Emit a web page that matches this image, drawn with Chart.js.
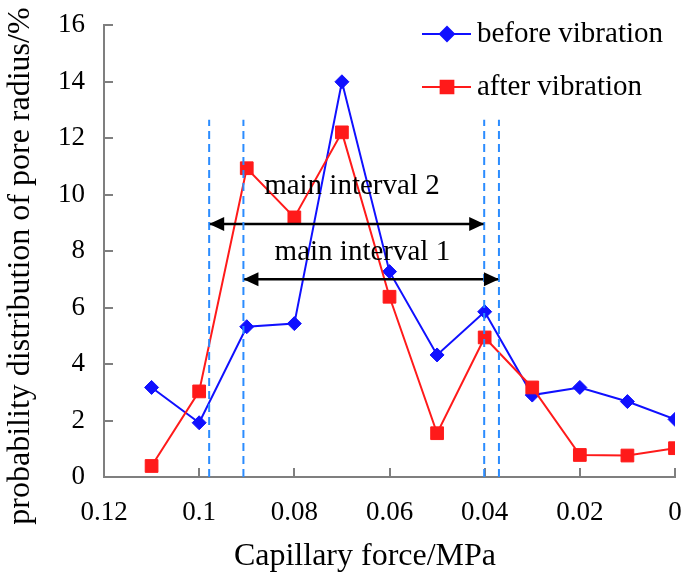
<!DOCTYPE html>
<html>
<head>
<meta charset="utf-8">
<script src="https://cdn.jsdelivr.net/npm/chart.js@4.4.1/dist/chart.umd.min.js"></script>
<style>
  html, body { margin: 0; padding: 0; background: #fff; }
</style>
</head>
<body>
<canvas id="poreChart" width="685" height="575"></canvas>
<script>
// capillary force (MPa) and pore radius distribution (%)
const pressure = [0.11, 0.10, 0.09, 0.08, 0.07, 0.06, 0.05, 0.04, 0.03, 0.02, 0.01, 0];
const beforeVib = [3.17, 1.92, 5.32, 5.43, 13.99, 7.27, 4.32, 5.85, 2.9, 3.17, 2.67, 2.04];
const afterVib = [0.39, 3.03, 10.93, 9.19, 12.2, 6.38, 1.55, 4.94, 3.17, 0.78, 0.76, 1.02];
const seriesNames = ["before vibration", "after vibration"];

const xTicks = [0, 0.02, 0.04, 0.06, 0.08, 0.1, 0.12];
const yTicks = [0, 2, 4, 6, 8, 10, 12, 14, 16];
const xTitle = "Capillary force/MPa";
const yTitle = "probability distribution of pore radius/%";

// dashed boundaries + the two interval arrows
const boundX = [0.0979, 0.0907, 0.0401, 0.037];
const boundY = [0, 12.65];
const intervalNames = ["main interval 2", "main interval 1"];
const intervalFrom = [0.0979, 0.0907];
const intervalTo = [0.0401, 0.037];
const intervalY = [8.96, 7.0];
const intervalLabelX = [0.0679, 0.0657];
const intervalLabelY = [10.27, 7.96];

const FONT = "'Liberation Serif', 'Times New Roman', serif";
const BLUE = "#1010ff";
const RED = "#ff1a1a";
const DASH = "#2b8cff";
const AXIS = "#7f7f7f";

const toPoints = ys => pressure.map((x, i) => ({ x, y: ys[i] }));

const datasets = [
  {
    label: seriesNames[0],
    data: toPoints(beforeVib),
    borderColor: BLUE,
    backgroundColor: BLUE,
    borderWidth: 2,
    pointStyle: "rectRot",
    pointRadius: 7,
    pointBorderWidth: 1,
    order: 2
  },
  {
    label: seriesNames[1],
    data: toPoints(afterVib),
    borderColor: RED,
    backgroundColor: RED,
    borderWidth: 2,
    pointStyle: "rect",
    pointRadius: 9,
    pointBorderWidth: 1,
    order: 1
  }
];

boundX.forEach(x => {
  datasets.push({
    label: "bound",
    data: boundY.map(y => ({ x, y })),
    borderColor: DASH,
    borderWidth: 2,
    borderDash: [8, 5],
    pointRadius: 0,
    order: 0
  });
});

intervalNames.forEach((name, i) => {
  datasets.push({
    label: name,
    data: [{ x: intervalFrom[i], y: intervalY[i] }, { x: intervalTo[i], y: intervalY[i] }],
    borderColor: "#000",
    borderWidth: 2.5,
    pointRadius: 0,
    order: 0,
    isArrow: true
  });
});

// no auto padding from tick labels, the layout is fixed
const noPad = s => { s.paddingLeft = s.paddingRight = s.paddingTop = s.paddingBottom = 0; };

const extras = {
  id: "extras",
  afterDatasetsDraw(chart) {
    const ctx = chart.ctx;
    const xs = chart.scales.x;
    const ys = chart.scales.y;
    ctx.save();

    // arrow heads
    ctx.fillStyle = "#000";
    chart.data.datasets.forEach((ds, di) => {
      if (!ds.isArrow) return;
      const pts = chart.getDatasetMeta(di).data;
      [[pts[0], -1], [pts[1], 1]].forEach(([p, dir]) => {
        ctx.beginPath();
        ctx.moveTo(p.x, p.y);
        ctx.lineTo(p.x - dir * 15, p.y - 7);
        ctx.lineTo(p.x - dir * 15, p.y + 7);
        ctx.closePath();
        ctx.fill();
      });
    });

    // interval labels
    ctx.font = "29px " + FONT;
    ctx.textAlign = "center";
    ctx.textBaseline = "middle";
    intervalNames.forEach((name, i) => {
      ctx.fillText(name, xs.getPixelForValue(intervalLabelX[i]), ys.getPixelForValue(intervalLabelY[i]));
    });

    // legend
    const rows = [
      { text: seriesNames[0], color: BLUE, style: "rectRot", r: 7, y: 34 },
      { text: seriesNames[1], color: RED, style: "rect", r: 9, y: 87 }
    ];
    rows.forEach(row => {
      ctx.strokeStyle = row.color;
      ctx.lineWidth = 2;
      ctx.beginPath();
      ctx.moveTo(422, row.y);
      ctx.lineTo(471, row.y);
      ctx.stroke();
      ctx.fillStyle = row.color;
      Chart.helpers.drawPoint(ctx, { pointStyle: row.style, radius: row.r, borderWidth: 1 }, 447, row.y);
      ctx.fill();
      ctx.fillStyle = "#000";
      ctx.textAlign = "left";
      ctx.fillText(row.text, 477, row.y);
    });

    // axis titles
    ctx.font = "32px " + FONT;
    ctx.textAlign = "center";
    ctx.fillText(xTitle, 365, 557);
    ctx.translate(21, 266);
    ctx.rotate(-Math.PI / 2);
    ctx.fillText(yTitle, 0, 0);

    ctx.restore();
  }
};

new Chart(document.getElementById("poreChart"), {
  type: "line",
  data: { datasets },
  options: {
    responsive: false,
    animation: false,
    devicePixelRatio: 1,
    layout: { padding: { top: 25, right: 9, left: 0, bottom: 0 } },
    plugins: {
      legend: { display: false },
      tooltip: { enabled: false }
    },
    scales: {
      x: {
        type: "linear",
        reverse: true,
        min: 0,
        max: 0.12,
        afterBuildTicks: s => { s.ticks = xTicks.map(v => ({ value: v })); },
        afterFit: s => { s.height = 98; noPad(s); },
        grid: { drawOnChartArea: false, drawTicks: true, tickLength: -9, color: AXIS, lineWidth: 2 },
        border: { display: true, color: AXIS, width: 2 },
        ticks: {
          padding: 29,
          color: "#000",
          maxRotation: 0,
          autoSkip: false,
          font: { family: FONT, size: 27 },
          callback: v => String(Number(Number(v).toFixed(2)))
        }
      },
      y: {
        min: 0,
        max: 16,
        afterBuildTicks: s => { s.ticks = yTicks.map(v => ({ value: v })); },
        afterFit: s => { s.width = 104; noPad(s); },
        grid: { drawOnChartArea: false, drawTicks: true, tickLength: -9, color: AXIS, lineWidth: 2 },
        border: { display: true, color: AXIS, width: 2 },
        ticks: {
          padding: 28,
          color: "#000",
          font: { family: FONT, size: 27 }
        }
      }
    }
  },
  plugins: [extras]
});
</script>
</body>
</html>
